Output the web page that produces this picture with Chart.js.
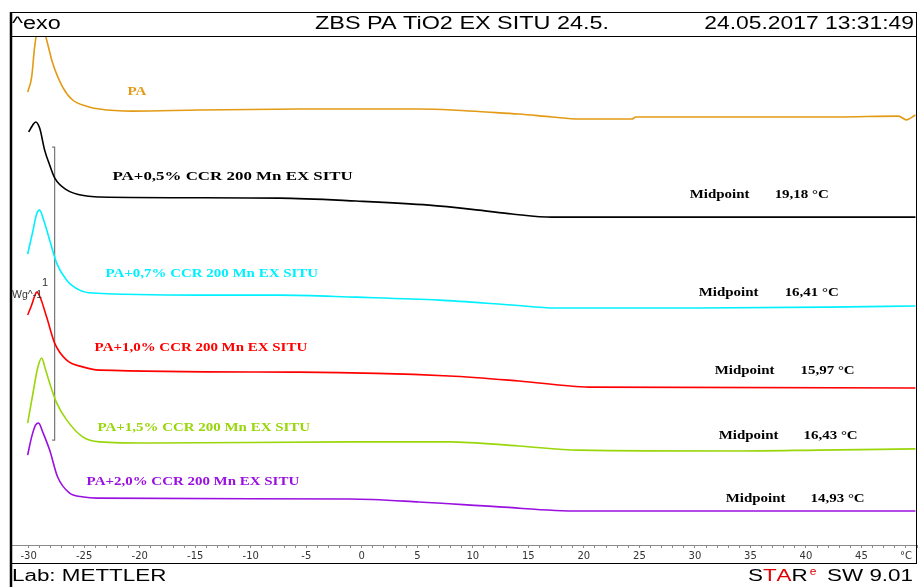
<!DOCTYPE html>
<html>
<head>
<meta charset="utf-8">
<script src="https://cdn.jsdelivr.net/npm/chart.js@4/dist/chart.umd.min.js"></script>
<style>
  html, body { margin: 0; padding: 0; background: #fff; }
  #wrap { width: 919px; height: 587px; }
</style>
</head>
<body>
<div id="wrap"><canvas id="dsc" width="919" height="587"></canvas></div>
<script>
// temperatures in °C, heat flow in W/g (curves shifted for display, as on the STARe plot)
const paT = [-30.09, -29.73, -29.46, -29.01, -28.65, -28.38, -27.84, -26.94, -26.04, -24.78, -23.62, -20.65, -14.62, -5.63, 5.16, 8.13, 11.19, 14.15, 17.12, 19.55, 24.32, 24.68, 32.14, 42.66, 48.33, 49.05, 49.86];
const paV = [1.546, 1.597, 1.700, 1.792, 1.758, 1.724, 1.645, 1.563, 1.519, 1.498, 1.488, 1.481, 1.485, 1.488, 1.488, 1.485, 1.478, 1.471, 1.461, 1.454, 1.454, 1.461, 1.461, 1.461, 1.464, 1.451, 1.468];

const p05T = [-30.0, -29.64, -29.37, -29.01, -28.56, -28.11, -27.66, -26.58, -24.78, -23.62, -7.43, -0.50, 6.06, 10.56, 13.53, 17.12, 28.54, 49.86];
const p05V = [1.410, 1.433, 1.444, 1.423, 1.348, 1.297, 1.253, 1.212, 1.191, 1.188, 1.184, 1.174, 1.160, 1.143, 1.130, 1.119, 1.119, 1.119];

const p07T = [-30.09, -29.64, -29.28, -29.01, -28.65, -28.11, -27.48, -26.58, -25.41, -24.24, -14.62, -7.43, -0.50, 6.96, 13.53, 17.48, 30.34, 42.03, 49.86];
const p07V = [0.993, 1.068, 1.130, 1.143, 1.109, 1.041, 0.962, 0.904, 0.870, 0.860, 0.853, 0.853, 0.846, 0.836, 0.819, 0.809, 0.809, 0.812, 0.816];

const p10T = [-30.09, -29.73, -29.46, -29.28, -29.01, -28.38, -27.66, -26.58, -25.14, -23.62, -5.63, 7.86, 14.15, 20.45, 49.86];
const p10V = [0.785, 0.819, 0.850, 0.863, 0.850, 0.778, 0.689, 0.631, 0.608, 0.597, 0.590, 0.577, 0.560, 0.539, 0.536];

const p15T = [-30.09, -29.64, -29.19, -28.83, -28.47, -28.11, -27.48, -26.58, -25.14, -23.62, -19.12, -1.13, 7.86, 14.15, 19.55, 33.94, 41.13, 49.86];
const p15V = [0.416, 0.512, 0.604, 0.638, 0.597, 0.553, 0.485, 0.427, 0.369, 0.352, 0.348, 0.352, 0.352, 0.338, 0.324, 0.321, 0.324, 0.328];

const p20T = [-30.09, -29.73, -29.37, -29.10, -28.74, -28.11, -27.39, -26.31, -25.05, -23.88, -1.13, 5.16, 12.36, 19.55, 49.86];
const p20V = [0.307, 0.369, 0.410, 0.416, 0.386, 0.324, 0.232, 0.177, 0.164, 0.160, 0.157, 0.147, 0.130, 0.116, 0.116];

const seriesNames = ["PA", "PA+0,5% CCR 200 Mn EX SITU", "PA+0,7% CCR 200 Mn EX SITU", "PA+1,0% CCR 200 Mn EX SITU", "PA+1,5% CCR 200 Mn EX SITU", "PA+2,0% CCR 200 Mn EX SITU"];
const midpoints = [null, "19,18", "16,41", "15,97", "16,43", "14,93"];
const xTickLabels = ["-30", "-25", "-20", "-15", "-10", "-5", "0", "5", "10", "15", "20", "25", "30", "35", "40", "45"];
const unitLabel = "°C";

// scale bar: 1 W/g
const barT = [-27.89, -27.66, -27.66, -27.89];
const barV = [1.358, 1.358, 0.358, 0.358];

const colors = ["#e39a14", "#000000", "#00f0ff", "#ff0000", "#99d60a", "#9a10e0"];
// label anchors (temperature, heat flow) for curve names and midpoint notes
const nameAt = [[-21.10, 1.549], [-22.45, 1.256], [-23.08, 0.925], [-24.06, 0.672], [-23.80, 0.399], [-24.78, 0.215]];
const midAt = [null, [29.53, 37.18, 1.195], [30.34, 38.08, 0.860], [31.78, 39.51, 0.594], [32.14, 39.78, 0.372], [32.77, 40.41, 0.157]];

const curves = [[paT, paV], [p05T, p05V], [p07T, p07V], [p10T, p10V], [p15T, p15V], [p20T, p20V]];
const pts = (ts, vs) => ts.map((t, i) => ({ x: t, y: vs[i] }));

const datasets = curves.map((c, i) => ({
  label: seriesNames[i],
  data: pts(c[0], c[1]),
  borderColor: colors[i],
  borderWidth: 1.6,
  pointRadius: 0,
  cubicInterpolationMode: "monotone",
  fill: false
}));
datasets.push({
  label: "scale",
  data: pts(barT, barV),
  borderColor: "#777777",
  borderWidth: 1.2,
  pointRadius: 0,
  tension: 0,
  fill: false
});

function sText(ctx, txt, x, y, font, color, sx, align) {
  ctx.save();
  ctx.font = font;
  ctx.fillStyle = color;
  ctx.textBaseline = "middle";
  ctx.textAlign = align || "left";
  ctx.translate(x, y);
  ctx.scale(sx, 1);
  ctx.fillText(txt, 0, 0);
  ctx.restore();
}

const frame = {
  id: "frame",
  afterDraw(chart) {
    const ctx = chart.ctx, xs = chart.scales.x, ys = chart.scales.y;
    ctx.save();
    ctx.strokeStyle = "#000";
    ctx.lineWidth = 1;
    ctx.beginPath();
    ctx.moveTo(11, 12.5); ctx.lineTo(917, 12.5);
    ctx.moveTo(11, 36.5); ctx.lineTo(917, 36.5);
    ctx.moveTo(11, 563.5); ctx.lineTo(917, 563.5);
    ctx.moveTo(916.5, 12); ctx.lineTo(916.5, 564);
    ctx.stroke();
    ctx.lineWidth = 2.5;
    ctx.beginPath();
    ctx.moveTo(11, 12); ctx.lineTo(11, 587);
    ctx.stroke();
    ctx.restore();

    const sans = "Liberation Sans, Arial, sans-serif";
    sText(ctx, "^exo", 12, 24, "18px " + sans, "#000", 1.3);
    sText(ctx, "ZBS PA TiO2 EX SITU 24.5.", 462, 24, "18px " + sans, "#000", 1.3, "center");
    sText(ctx, "24.05.2017 13:31:49", 914, 24, "18px " + sans, "#000", 1.27, "right");
    sText(ctx, "Lab: METTLER", 12, 577, "16px " + sans, "#000", 1.4);

    // STARe logo
    ctx.save();
    ctx.font = "16px " + sans;
    let px = 748;
    [["S", "#000"], ["T", "#e00000"], ["A", "#e00000"], ["R", "#000"]].forEach(([ch, col]) => {
      sText(ctx, ch, px, 577, "16px " + sans, col, 1.4);
      px += ctx.measureText(ch).width * 1.4;
    });
    ctx.restore();
    sText(ctx, "e", px + 2, 572, "10px " + sans, "#e00000", 1.2);
    sText(ctx, "SW 9.01", 913, 577, "16px " + sans, "#000", 1.4, "right");

    // scale bar caption
    sText(ctx, "1", 42, 283, "10px " + sans, "#333", 1.1);
    sText(ctx, "Wg^-1", 12, 295, "10px " + sans, "#333", 1.05);

    const serif = "bold 13px Liberation Serif, Times New Roman, serif";
    nameAt.forEach((a, i) => {
      const sx = i === 1 ? 1.3 : 1.15;
      sText(ctx, seriesNames[i], xs.getPixelForValue(a[0]), ys.getPixelForValue(a[1]), serif, colors[i], sx);
    });
    midAt.forEach((m, i) => {
      if (!m) return;
      const y = ys.getPixelForValue(m[2]);
      sText(ctx, "Midpoint", xs.getPixelForValue(m[0]), y, serif, "#000", 1.15);
      sText(ctx, midpoints[i] + " °C", xs.getPixelForValue(m[1]), y, serif, "#000", 1.15);
    });
  }
};

new Chart(document.getElementById("dsc"), {
  type: "line",
  data: { datasets },
  options: {
    responsive: false,
    devicePixelRatio: 1,
    animation: false,
    events: [],
    layout: { padding: { left: 12, right: 2, top: 37, bottom: 24 } },
    plugins: { legend: { display: false }, tooltip: { enabled: false } },
    scales: {
      x: {
        type: "linear",
        min: -31.5,
        max: 50,
        afterBuildTicks: s => { const t = []; for (let v = -30; v <= 50; v++) t.push({ value: v }); s.ticks = t; },
        afterFit: s => { s.height = 18; },
        border: { color: "#8a8a8a", width: 1 },
        grid: { drawOnChartArea: false, color: "#8a8a8a", tickLength: 3 },
        ticks: {
          autoSkip: false,
          maxRotation: 0,
          padding: 2,
          color: "#333",
          font: { family: "DejaVu Sans", size: 10 },
          callback: v => {
            if (v === 49) return unitLabel;
            if (v % 5 === 0 && v <= 45) return xTickLabels[(v + 30) / 5];
            return "";
          }
        }
      },
      y: { display: false, min: 0, max: 1.734 }
    }
  },
  plugins: [frame]
});
</script>
</body>
</html>
